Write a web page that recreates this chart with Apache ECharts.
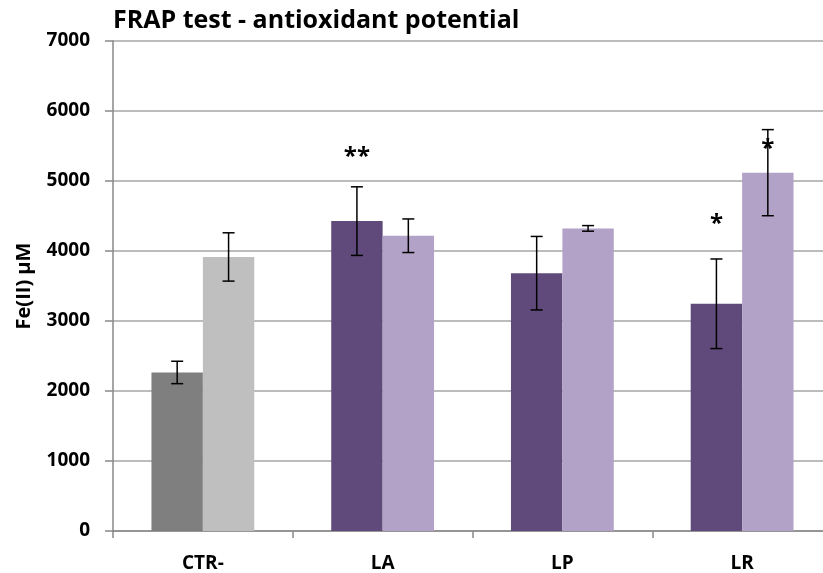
<!DOCTYPE html>
<html>
<head>
<meta charset="utf-8">
<script src="https://cdn.jsdelivr.net/npm/echarts@6/dist/echarts.min.js"></script>
<style>
  html, body { margin: 0; padding: 0; background: #fff; overflow: hidden; width: 823px; height: 573px; }
  /* the original plot runs a little past the right edge of the picture */
  #chart { width: 832px; height: 573px; }
</style>
</head>
<body>
<div id="chart"></div>
<script>
  // data
  const categories = ['CTR-', 'LA', 'LP', 'LR'];
  const valuesA = [2265, 4427, 3683, 3246];
  const errorsA = [160, 490, 525, 640];
  const valuesB = [3915, 4218, 4323, 5119];
  const errorsB = [345, 240, 40, 615];
  // significance marks: [category index, series index, y value, text]
  const marks = [
    [1, 0, 5340, '**'],
    [3, 0, 4390, '*'],
    [3, 1, 5460, '*']
  ];
  const yTicks = [0, 1000, 2000, 3000, 4000, 5000, 6000, 7000];

  const font = '"Open Sans", "Noto Sans", sans-serif';
  const darkColors = ['#7f7f7f', '#604a7b', '#604a7b', '#604a7b'];
  const lightColors = ['#bfbfbf', '#b3a2c7', '#b3a2c7', '#b3a2c7'];
  const barFrac = 0.286;

  var chart = echarts.init(document.getElementById('chart'));

  function errorSeries(values, errors, side) {
    return {
      type: 'custom',
      z: 10,
      data: values.map((v, i) => [i, v - errors[i], v + errors[i]]),
      renderItem(params, api) {
        var bandW = api.size([1, 0])[0];
        var lo = api.coord([api.value(0), api.value(1)]);
        var hi = api.coord([api.value(0), api.value(2)]);
        var x = lo[0] + side * bandW * barFrac / 2;
        var cap = 6;
        var st = { stroke: '#000', lineWidth: 1.5 };
        return {
          type: 'group',
          children: [
            { type: 'line', shape: { x1: x, y1: lo[1], x2: x, y2: hi[1] }, style: st },
            { type: 'line', shape: { x1: x - cap, y1: lo[1], x2: x + cap, y2: lo[1] }, style: st },
            { type: 'line', shape: { x1: x - cap, y1: hi[1], x2: x + cap, y2: hi[1] }, style: st }
          ]
        };
      }
    };
  }

  var option = {
    animation: false,
    title: {
      text: 'FRAP test - antioxidant potential',
      left: 113,
      top: 8,
      padding: 0,
      textStyle: { fontFamily: font, fontSize: 25, fontWeight: 'bold', color: '#000' }
    },
    grid: { left: 113, right: 0, top: 41, bottom: 40 },
    xAxis: {
      type: 'category',
      data: categories,
      axisLine: { lineStyle: { color: '#888', width: 1.5 } },
      axisTick: { show: true, length: 7, lineStyle: { color: '#888', width: 1.5 } },
      axisLabel: { fontFamily: font, fontSize: 19, fontWeight: 'bold', color: '#000', margin: 23 }
    },
    yAxis: {
      type: 'value',
      min: yTicks[0],
      max: yTicks[yTicks.length - 1],
      interval: 1000,
      name: 'Fe(II) μM',
      nameLocation: 'middle',
      nameGap: 79,
      nameTextStyle: { fontFamily: font, fontSize: 20, fontWeight: 'bold', color: '#000' },
      axisLine: { show: true, lineStyle: { color: '#888', width: 1.5 } },
      axisTick: { show: true, length: 8, lineStyle: { color: '#888', width: 1.5 } },
      splitLine: { lineStyle: { color: '#a6a6a6', width: 1.5 } },
      axisLabel: {
        fontFamily: font, fontSize: 19, fontWeight: 'bold', color: '#000', margin: 23,
        formatter: v => String(v)
      }
    },
    series: [
      {
        type: 'bar',
        barWidth: (barFrac * 100) + '%',
        barGap: '0%',
        data: valuesA.map((v, i) => ({ value: v, itemStyle: { color: darkColors[i] } }))
      },
      {
        type: 'bar',
        barWidth: (barFrac * 100) + '%',
        barGap: '0%',
        data: valuesB.map((v, i) => ({ value: v, itemStyle: { color: lightColors[i] } }))
      },
      errorSeries(valuesA, errorsA, -1),
      errorSeries(valuesB, errorsB, 1),
      {
        type: 'custom',
        z: 11,
        data: marks.map(m => [m[0], m[2], m[1]]),
        renderItem(params, api) {
          var bandW = api.size([1, 0])[0];
          var p = api.coord([api.value(0), api.value(1)]);
          var side = api.value(2) === 0 ? -1 : 1;
          return {
            type: 'text',
            style: {
              x: p[0] + side * bandW * barFrac / 2,
              y: p[1],
              text: marks[params.dataIndex][3],
              fontFamily: font,
              fontSize: 24,
              fontWeight: 'bold',
              fill: '#000',
              align: 'center',
              verticalAlign: 'middle'
            }
          };
        }
      }
    ]
  };
  chart.setOption(option);
</script>
</body>
</html>
